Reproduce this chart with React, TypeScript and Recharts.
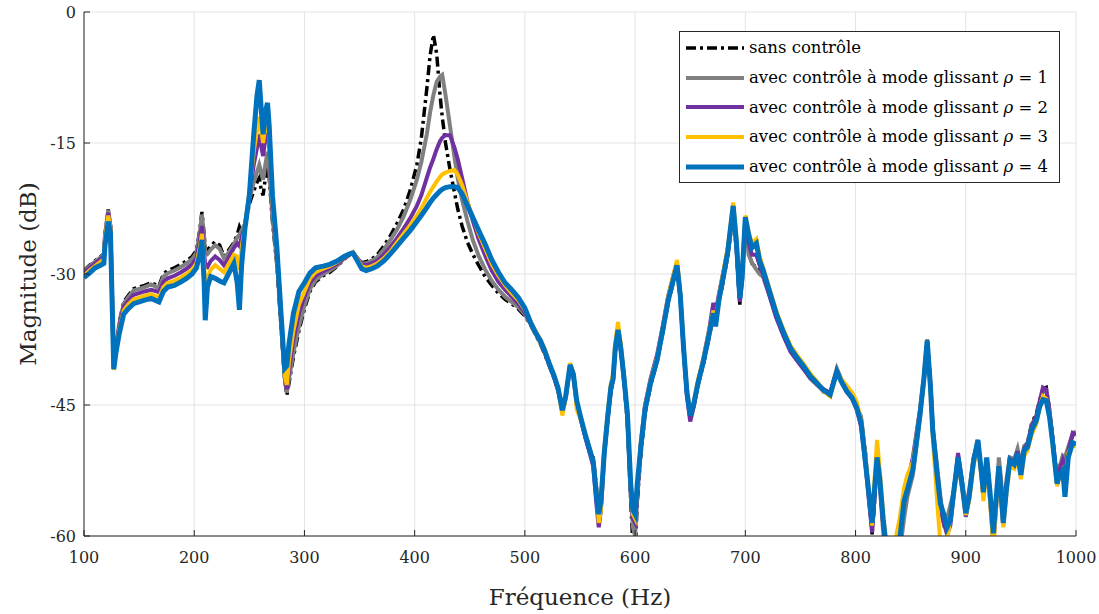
import React from 'react'
import { LineChart, Line, XAxis, YAxis, CartesianGrid, Legend } from 'recharts'

// fréquences (Hz)
const freq = [
  100, 105, 110, 115, 118, 119, 122, 124, 127, 129, 132, 136, 140, 145, 150, 155, 161, 166, 168, 172, 176, 182, 188, 193, 198, 202,
  205, 207, 209, 210, 212, 215, 219, 223, 227, 231, 236, 239, 241, 243, 246, 250, 254, 257, 259, 261, 262.5, 264.5, 266.5, 268, 271,
  275, 279, 282, 284, 286, 290, 295, 300, 305, 310, 317, 323, 330, 336, 341, 344,
  348, 352, 356, 361, 366, 372, 378, 384, 390, 396, 402, 406, 411, 414, 417, 420, 423, 425, 428, 432, 436,
  439, 443, 448, 453, 458, 464, 470, 476, 482, 488, 494, 500,
  505, 510, 514, 518, 522, 526, 530, 534, 537, 541, 544, 547, 551, 555, 559, 562, 565, 567, 569, 572, 575, 578, 580, 582, 584.5, 587, 590, 593, 596, 598, 600,
  602, 605, 609, 614, 620, 625, 630, 635, 638, 641, 644, 647, 650, 653, 657, 662, 667, 671, 673, 676, 680, 684, 689, 692, 695, 697, 700,
  703, 706, 710, 713, 716, 722, 728, 735, 741, 747, 753, 759, 765, 771, 777, 780, 783, 787, 792, 797, 801,
  805, 809, 812, 815, 817, 819.5, 822, 825, 828, 832, 836, 840, 844, 847, 852, 858.5, 862, 865, 868, 870, 874, 877, 880, 883, 886, 889, 893, 896, 900,
  903, 907, 911, 914, 916, 919, 922, 925, 928, 930, 932, 934, 937, 940, 944, 947, 950, 953, 956, 960, 964, 967, 970, 973, 976, 979, 982.8, 985, 988, 990, 993, 997, 1000,
]

// sans contrôle
const sansControle = [
  -29.6, -29.0, -28.5, -28.0, -27.7, -25.5, -22.6, -24.5, -40.5, -38.5, -35.5, -33.2, -32.5, -31.7, -31.5, -31.3, -31.0, -31.3, -31.4, -30.0, -29.6, -29.3, -28.9, -28.5, -28.0, -27.3,
  -25.0, -22.9, -25.5, -27.0, -27.3, -26.8, -26.3, -26.7, -28.0, -27.3, -26.4, -25.5, -24.6, -25.2, -24.5, -22.0, -20.5, -19.5, -19.0, -20.5, -21.0, -19.0, -17.5, -19.0, -24.0,
  -29.0, -36.5, -42.0, -43.9, -42.5, -39.5, -36.5, -34.0, -32.0, -30.9, -30.2, -29.8, -29.1, -28.3, -27.8, -27.6,
  -28.2, -28.7, -28.6, -28.3, -27.8, -26.8, -25.6, -24.2, -22.6, -20.4, -17.5, -14.5, -8.8, -5.0, -2.6, -4.8, -9.5, -12.0, -15.0, -18.0, -20.6,
  -22.5, -24.5, -26.4, -27.8, -29.0, -30.3, -31.3, -32.2, -32.9, -33.4, -34.0, -34.8,
  -35.8, -37.0, -38.0, -39.2, -40.5, -41.8, -43.3, -45.3, -44.2, -40.6, -41.6, -44.8, -46.8, -48.8, -50.5, -51.0, -54.5, -58.5, -57.0, -50.0, -46.8, -43.5, -42.2, -38.8, -36.8, -38.8, -42.5, -47.0, -56.0, -61.0, -62.0,
  -56.0, -51.0, -46.0, -42.8, -40.0, -36.8, -33.3, -30.8, -29.3, -32.7, -38.8, -43.8, -46.5, -45.3, -42.8, -40.3, -37.3, -34.8, -35.2, -33.3, -30.8, -28.0, -23.0, -27.5, -33.5, -30.0, -23.8,
  -27.5, -28.8, -29.2, -29.8, -30.2, -32.4, -34.8, -37.0, -38.7, -39.8, -40.8, -41.9, -42.6, -43.5, -44.0, -42.5, -41.0, -42.2, -43.5, -44.3, -45.4,
  -46.5, -50.5, -55.0, -59.8, -56.5, -51.8, -54.0, -59.0, -62.0, -65.0, -64.0, -60.5, -56.0, -54.5, -52.0, -46.2, -42.0, -37.5, -43.2, -48.0, -52.5, -56.0, -57.8, -59.5, -58.0, -54.5, -51.5, -53.0, -57.0,
  -55.0, -51.0, -49.2, -52.8, -55.5, -51.3, -55.5, -60.5, -55.5, -52.3, -55.3, -58.0, -54.0, -51.0, -51.3, -50.2, -52.0, -49.8, -49.3, -47.0, -46.0, -44.5, -43.2, -43.0, -45.5, -49.0, -53.5, -52.0, -51.0, -51.5, -50.0, -48.5, -48.2,
]

// rho = 1
const rho1 = [
  -29.7, -29.1, -28.6, -28.1, -27.8, -25.6, -22.7, -24.5, -40.6, -38.4, -35.7, -33.4, -32.7, -31.9, -31.7, -31.5, -31.2, -31.5, -31.6, -30.3, -29.9, -29.6, -29.2, -28.8, -28.3, -27.6,
  -25.3, -23.2, -25.8, -27.5, -27.7, -27.2, -26.7, -27.1, -28.2, -27.6, -26.6, -25.8, -25.5, -25.0, -24.3, -21.5, -19.5, -18.3, -17.5, -18.5, -19.2, -17.5, -16.0, -18.0, -23.5,
  -28.5, -36.0, -41.8, -43.6, -42.0, -39.0, -36.0, -33.6, -31.7, -30.7, -30.0, -29.6, -29.0, -28.2, -27.8, -27.6,
  -28.2, -28.8, -28.8, -28.5, -28.1, -27.2, -26.1, -24.9, -23.4, -21.5, -19.2, -17.2, -14.0, -11.5, -9.5, -8.0, -7.4, -7.2, -9.5, -13.0, -16.5,
  -19.0, -21.5, -24.0, -26.2, -27.9, -29.5, -30.8, -31.8, -32.6, -33.2, -33.8, -34.6,
  -35.7, -36.9, -37.9, -39.0, -40.4, -41.7, -43.2, -45.4, -44.1, -40.5, -41.6, -44.7, -46.7, -48.7, -50.4, -51.2, -55.0, -58.0, -56.5, -50.2, -46.6, -43.3, -42.1, -38.6, -36.6, -38.7, -42.3, -46.5, -55.0, -59.0, -60.0,
  -55.0, -50.5, -45.8, -42.6, -39.9, -36.6, -33.1, -30.6, -29.1, -32.6, -38.6, -43.6, -46.4, -45.2, -42.7, -40.2, -37.1, -34.6, -35.0, -33.1, -30.6, -27.8, -22.8, -27.0, -33.2, -30.2, -23.6,
  -27.8, -28.7, -29.5, -30.0, -30.3, -32.5, -34.9, -37.1, -38.8, -39.9, -40.9, -42.0, -42.7, -43.4, -43.9, -42.2, -40.8, -42.0, -43.4, -44.2, -45.3,
  -46.3, -50.8, -55.2, -59.2, -56.0, -51.5, -54.2, -59.5, -63.0, -65.0, -64.0, -62.0, -58.0, -55.5, -53.0, -46.5, -42.2, -37.8, -42.8, -47.5, -52.0, -55.5, -58.5, -58.0, -56.5, -55.0, -52.0, -54.0, -56.8,
  -54.8, -51.2, -49.0, -52.6, -55.3, -51.2, -55.2, -60.2, -55.2, -51.0, -53.5, -57.0, -53.5, -51.0, -51.2, -50.0, -51.8, -49.7, -49.4, -47.2, -46.3, -44.8, -43.4, -43.3, -45.8, -49.2, -53.6, -52.2, -50.8, -51.0, -49.8, -48.3, -48.0,
]

// rho = 2
const rho2 = [
  -29.9, -29.3, -28.8, -28.3, -28.0, -25.8, -23.0, -24.6, -40.8, -38.5, -36.0, -33.8, -33.1, -32.4, -32.2, -32.0, -31.8, -32.0, -32.1, -30.9, -30.5, -30.2, -29.8, -29.4, -28.9, -28.2,
  -26.2, -24.5, -27.5, -29.0, -29.2, -28.5, -28.0, -28.4, -29.0, -28.2, -27.0, -26.5, -26.8, -25.8, -24.5, -21.0, -17.5, -15.5, -14.0, -15.5, -16.5, -14.5, -13.0, -15.5, -22.5,
  -28.0, -35.5, -41.5, -43.2, -41.0, -37.5, -34.5, -32.6, -31.0, -30.2, -29.7, -29.3, -28.8, -28.1, -27.7, -27.5,
  -28.2, -28.9, -29.0, -28.8, -28.5, -27.8, -26.9, -25.9, -24.8, -23.6, -22.2, -21.0, -19.0, -17.8, -16.8, -15.7, -14.8, -14.4, -14.1, -14.1, -15.5,
  -16.8, -19.0, -21.8, -24.0, -26.0, -27.9, -29.6, -30.9, -31.8, -32.6, -33.4, -34.4,
  -35.6, -36.7, -37.7, -38.9, -40.3, -41.6, -43.2, -45.8, -44.2, -40.5, -41.7, -44.8, -46.8, -48.8, -50.6, -52.0, -56.5, -59.0, -57.0, -50.8, -46.8, -43.2, -42.2, -38.5, -36.2, -38.3, -42.0, -46.3, -55.0, -58.0, -58.5,
  -55.5, -49.5, -45.0, -42.0, -39.2, -36.0, -32.5, -30.0, -28.8, -32.3, -38.6, -44.0, -46.9, -45.3, -42.4, -39.6, -36.5, -33.3, -34.5, -32.3, -29.8, -27.2, -22.5, -26.8, -33.2, -30.8, -23.7,
  -26.5, -27.8, -27.8, -29.0, -30.0, -32.5, -35.0, -37.2, -38.9, -39.9, -40.9, -41.9, -42.6, -43.2, -43.6, -42.3, -41.1, -42.3, -43.5, -44.3, -45.5,
  -47.5, -51.8, -55.8, -59.6, -56.0, -50.5, -53.8, -58.5, -62.0, -64.5, -63.0, -59.5, -55.0, -54.0, -51.0, -45.5, -41.8, -37.7, -42.8, -47.8, -53.5, -57.0, -58.5, -59.8, -58.8, -55.2, -50.5, -53.2, -57.8,
  -55.8, -51.6, -49.4, -52.8, -55.4, -51.6, -55.8, -61.0, -55.8, -52.5, -55.5, -58.7, -54.3, -51.2, -51.5, -50.3, -52.5, -50.0, -49.5, -47.4, -46.3, -44.6, -43.0, -43.2, -45.8, -49.2, -53.8, -52.5, -51.3, -52.0, -50.3, -48.2, -48.4,
]

// rho = 3
const rho3 = [
  -30.2, -29.6, -29.1, -28.6, -28.3, -26.0, -23.3, -24.8, -41.0, -38.8, -36.4, -34.2, -33.5, -32.9, -32.7, -32.5, -32.3, -32.6, -32.7, -31.5, -31.0, -30.8, -30.4, -30.0, -29.5, -28.8,
  -27.0, -25.4, -29.0, -31.0, -30.5, -29.5, -29.0, -29.4, -29.8, -28.9, -27.8, -28.0, -29.5, -27.0, -24.5, -20.8, -16.0, -13.5, -12.0, -13.8, -15.0, -13.0, -12.0, -14.5, -22.0,
  -27.5, -35.0, -41.5, -42.7, -40.0, -36.5, -33.5, -32.0, -30.5, -29.8, -29.4, -29.1, -28.6, -28.0, -27.7, -27.5,
  -28.3, -29.1, -29.3, -29.1, -28.8, -28.2, -27.4, -26.4, -25.4, -24.4, -23.3, -22.5, -21.3, -20.6, -20.0, -19.4, -18.9, -18.6, -18.4, -18.2, -18.1,
  -18.6, -19.8, -21.8, -23.6, -25.3, -27.1, -28.9, -30.2, -31.3, -32.2, -33.0, -34.1,
  -35.4, -36.6, -37.5, -38.6, -40.1, -41.4, -43.0, -46.2, -44.2, -40.2, -41.3, -45.5, -46.8, -48.4, -50.0, -51.5, -55.0, -58.5, -57.0, -50.2, -46.0, -42.5, -41.5, -37.8, -35.5, -38.0, -41.8, -46.0, -54.5, -57.5, -58.0,
  -54.5, -49.8, -45.2, -42.2, -39.5, -36.2, -32.6, -30.0, -28.4, -32.0, -38.2, -43.3, -46.0, -44.8, -42.2, -39.7, -36.6, -34.2, -35.5, -32.6, -29.8, -27.0, -21.8, -26.0, -32.5, -30.2, -23.3,
  -25.2, -26.5, -26.0, -28.0, -29.2, -31.7, -34.2, -36.5, -38.2, -39.3, -40.3, -41.4, -42.3, -43.4, -44.0, -42.6, -41.3, -42.0, -42.8, -43.6, -44.6,
  -46.8, -51.0, -55.0, -58.8, -54.0, -49.0, -52.5, -57.5, -61.0, -63.0, -60.5, -58.0, -54.5, -53.0, -51.5, -45.8, -41.8, -37.6, -43.5, -48.5, -56.0, -61.0, -61.5, -60.5, -58.0, -55.5, -51.5, -53.8, -57.6,
  -56.0, -52.0, -49.5, -53.0, -56.0, -51.8, -56.0, -61.5, -56.0, -53.0, -56.0, -59.0, -55.0, -52.0, -52.3, -51.0, -53.5, -50.8, -50.2, -48.3, -47.2, -45.3, -44.0, -44.3, -46.2, -49.8, -54.3, -53.3, -52.5, -53.5, -50.5, -49.5, -49.8,
]

// rho = 4
const rho4 = [
  -30.4, -29.9, -29.3, -29.0, -28.8, -26.8, -24.0, -25.3, -40.9, -39.0, -36.8, -34.6, -34.0, -33.4, -33.2, -33.0, -32.8, -33.1, -33.2, -32.0, -31.5, -31.3, -30.9, -30.5, -30.0, -29.3,
  -27.8, -26.1, -31.0, -35.3, -31.5, -30.3, -30.5, -30.8, -31.0, -30.0, -28.8, -31.0, -34.1, -29.0, -24.8, -21.0, -14.0, -9.5, -7.8, -11.5, -14.0, -11.5, -10.4, -13.0, -21.0,
  -27.0, -35.0, -40.8, -40.5, -38.0, -34.5, -32.0, -31.0, -29.9, -29.3, -29.1, -28.9, -28.5, -28.0, -27.7, -27.6,
  -28.5, -29.4, -29.6, -29.4, -29.1, -28.5, -27.7, -26.8, -25.9, -25.0, -24.0, -23.3, -22.4, -21.8, -21.3, -20.9, -20.5, -20.3, -20.1, -20.0, -20.0,
  -20.1, -20.8, -22.2, -23.6, -25.0, -26.6, -28.4, -29.8, -31.0, -31.8, -32.7, -33.9,
  -35.5, -36.8, -37.6, -38.8, -40.2, -41.5, -43.0, -45.6, -44.0, -40.4, -41.5, -44.5, -46.6, -48.5, -50.2, -51.5, -55.5, -57.5, -56.0, -50.5, -46.5, -43.0, -42.0, -38.5, -36.4, -38.5, -42.0, -46.0, -54.0, -57.0, -57.5,
  -54.0, -50.0, -45.5, -42.5, -39.8, -36.5, -33.0, -30.5, -29.0, -32.5, -38.5, -43.5, -46.2, -45.0, -42.5, -40.0, -37.0, -34.5, -36.0, -33.0, -30.3, -27.5, -22.2, -26.5, -32.8, -30.5, -23.5,
  -25.5, -27.0, -26.5, -28.5, -29.5, -32.0, -34.5, -36.8, -38.5, -39.6, -40.6, -41.7, -42.5, -43.3, -43.8, -42.5, -41.2, -42.3, -43.4, -44.2, -45.3,
  -47.0, -51.6, -55.0, -58.5, -55.0, -51.0, -53.5, -58.0, -61.5, -64.0, -63.5, -60.5, -56.0, -54.7, -52.4, -46.0, -42.0, -37.6, -43.0, -47.9, -53.0, -56.3, -57.5, -59.0, -58.2, -55.0, -51.0, -53.5, -57.4,
  -55.5, -51.5, -49.0, -52.5, -55.0, -51.0, -55.0, -59.7, -55.0, -52.0, -55.0, -58.5, -54.5, -51.3, -51.8, -50.5, -53.0, -50.2, -49.8, -47.8, -46.8, -45.2, -44.4, -44.5, -46.4, -49.5, -54.0, -53.0, -52.5, -55.5, -51.0, -49.3, -49.5,
]

const xTicks = [100, 200, 300, 400, 500, 600, 700, 800, 900, 1000]
const yTicks = [-60, -45, -30, -15, 0]

const data = freq.map((f, i) => ({
  f,
  sans: sansControle[i],
  r1: rho1[i],
  r2: rho2[i],
  r3: rho3[i],
  r4: rho4[i],
}))

const SERIES = [
  { key: 'sans', rho: null, color: '#000000', width: 3.5, dash: '10 4 3 4' },
  { key: 'r1', rho: 1, color: '#808080', width: 4, dash: undefined },
  { key: 'r2', rho: 2, color: '#7030A0', width: 4, dash: undefined },
  { key: 'r3', rho: 3, color: '#FFC000', width: 4, dash: undefined },
  { key: 'r4', rho: 4, color: '#0072BD', width: 5, dash: undefined },
]

const FONT = '"DejaVu Serif", serif'
const AXIS = '#262626'

function LegendBox() {
  return (
    <div
      style={{
        width: 381,
        height: 152,
        border: `1px solid ${AXIS}`,
        background: '#fff',
        boxSizing: 'border-box',
        paddingTop: 1,
        fontFamily: FONT,
        fontSize: 16.5,
        color: '#000',
      }}
    >
      {SERIES.map((s) => (
        <div key={s.key} style={{ height: 29.7, display: 'flex', alignItems: 'center', whiteSpace: 'nowrap' }}>
          <svg width={58} height={8} style={{ marginLeft: 6, marginRight: 5, flexShrink: 0 }}>
            <line x1={0} y1={4} x2={58} y2={4} stroke={s.color} strokeWidth={s.width} strokeDasharray={s.dash} />
          </svg>
          {s.rho === null ? (
            <span>sans contrôle</span>
          ) : (
            <span>
              avec contrôle à mode glissant <i>ρ</i> = {s.rho}
            </span>
          )}
        </div>
      ))}
    </div>
  )
}

export default function App() {
  return (
    <div style={{ position: 'absolute', left: 0, top: 0, background: '#fff' }}>
      <LineChart width={1099} height={614} data={data} margin={{ top: 12, right: 23, bottom: 0, left: 0 }}>
        <CartesianGrid stroke="#e3e3e3" strokeWidth={1} />
        <XAxis
          dataKey="f"
          type="number"
          domain={[100, 1000]}
          ticks={xTicks}
          allowDataOverflow
          height={78}
          tickSize={-6}
          tickMargin={22}
          axisLine={{ stroke: AXIS }}
          tickLine={{ stroke: AXIS }}
          tick={{ fill: AXIS, fontSize: 16, fontFamily: FONT }}
          label={{
            content: ({ viewBox }: any) => (
              <text
                x={viewBox.x + viewBox.width / 2}
                y={viewBox.y + 69}
                textAnchor="middle"
                fill={AXIS}
                fontSize={23}
                fontFamily={FONT}
              >
                Fréquence (Hz)
              </text>
            ),
          }}
        />
        <YAxis
          type="number"
          domain={[-60, 0]}
          ticks={yTicks}
          allowDataOverflow
          width={84}
          tickSize={-6}
          tickMargin={14}
          axisLine={{ stroke: AXIS }}
          tickLine={{ stroke: AXIS }}
          tick={{ fill: AXIS, fontSize: 16, fontFamily: FONT }}
          label={{
            content: ({ viewBox }: any) => {
              const cx = viewBox.x + 36
              const cy = viewBox.y + viewBox.height / 2
              return (
                <text
                  x={cx}
                  y={cy}
                  transform={`rotate(-90, ${cx}, ${cy})`}
                  textAnchor="middle"
                  fill={AXIS}
                  fontSize={23}
                  fontFamily={FONT}
                >
                  Magnitude (dB)
                </text>
              )
            },
          }}
        />
        <Legend
          layout="vertical"
          align="center"
          verticalAlign="middle"
          content={() => <LegendBox />}
          wrapperStyle={{ top: 31, left: 679, width: 381 }}
        />
        {SERIES.map((s) => (
          <Line
            key={s.key}
            dataKey={s.key}
            type="linear"
            stroke={s.color}
            strokeWidth={s.width}
            strokeDasharray={s.dash}
            dot={false}
            activeDot={false}
            isAnimationActive={false}
          />
        ))}
      </LineChart>
    </div>
  )
}
